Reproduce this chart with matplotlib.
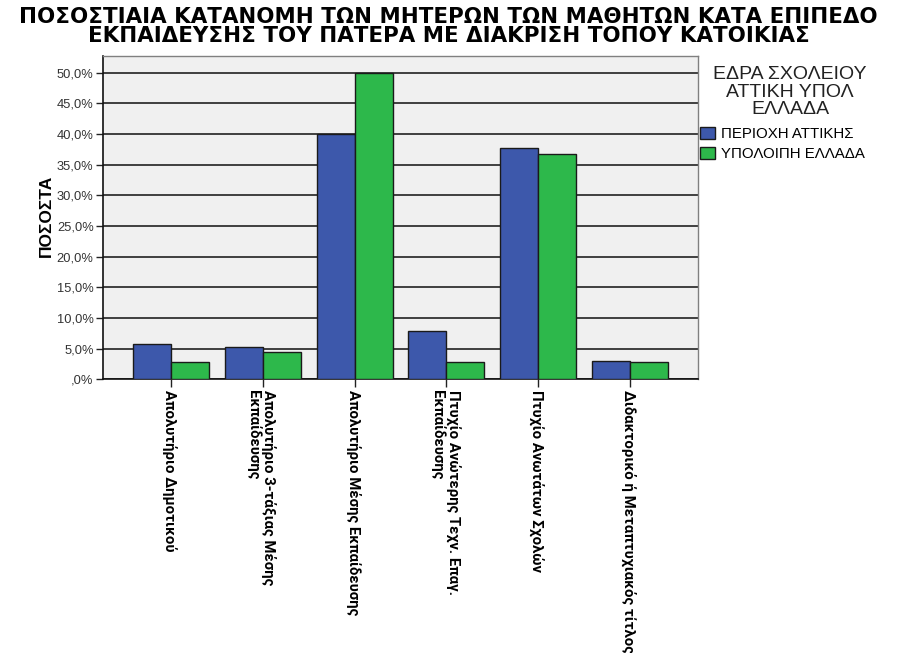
import matplotlib
matplotlib.use("Agg")
import matplotlib.pyplot as plt
import numpy as np

categories = [
    "Απολυτήριο Δημοτικού",
    "Απολυτήριο 3-τάξιας Μέσης\nΕκπαίδευσης",
    "Απολυτήριο Μέσης Εκπαίδευσης",
    "Πτυχίο Ανώτερης Τεχν. Επαγ.\nΕκπαίδευσης",
    "Πτυχίο Ανωτάτων Σχολών",
    "Διδακτορικό ή Μεταπτυχιακός τίτλος",
]
attiki = [5.7, 5.3, 40.0, 7.9, 37.7, 3.0]
ypoloipi = [2.8, 4.4, 50.0, 2.8, 36.7, 2.8]
series_names = ["ΠΕΡΙΟΧΗ ΑΤΤΙΚΗΣ", "ΥΠΟΛΟΙΠΗ ΕΛΛΑΔΑ"]
yticks = [0, 5, 10, 15, 20, 25, 30, 35, 40, 45, 50]

title = "ΠΟΣΟΣΤΙΑΙΑ ΚΑΤΑΝΟΜΗ ΤΩΝ ΜΗΤΕΡΩΝ ΤΩΝ ΜΑΘΗΤΩΝ ΚΑΤΑ ΕΠΙΠΕΔΟ\nΕΚΠΑΙΔΕΥΣΗΣ ΤΟΥ ΠΑΤΕΡΑ ΜΕ ΔΙΑΚΡΙΣΗ ΤΟΠΟΥ ΚΑΤΟΙΚΙΑΣ"
ylabel = "ΠΟΣΟΣΤΑ"
legend_title = "ΕΔΡΑ ΣΧΟΛΕΙΟΥ\nΑΤΤΙΚΗ ΥΠΟΛ\nΕΛΛΑΔΑ"

plt.rcParams["font.family"] = ["Liberation Sans", "DejaVu Sans"]
cond = ["Roboto", "DejaVu Sans"]

fig = plt.figure(figsize=(8.97, 6.53), dpi=100)
ax = fig.add_axes([0.1152, 0.4191, 0.7778 - 0.1152, 0.9142 - 0.4191])
ax.set_facecolor("#F0F0F0")

x = np.arange(len(categories))
w = 0.413
ax.bar(x - w / 2, attiki, w, color="#3D58AB", edgecolor="#1a1a1a", linewidth=1.0,
       label=series_names[0], zorder=3)
ax.bar(x + w / 2, ypoloipi, w, color="#2DB84B", edgecolor="#1a1a1a", linewidth=1.0,
       label=series_names[1], zorder=3)

ax.set_xlim(-0.737, 5.737)
ax.set_ylim(0, 52.7)
ax.set_yticks(yticks)
ax.set_yticklabels([("%.1f" % v).replace(".", ",").lstrip("0") + "%" for v in yticks],
                   fontsize=9.3, color="#333333")
ax.yaxis.grid(True, color="#404040", linewidth=1.4, zorder=1)
ax.set_axisbelow(True)
ax.tick_params(axis="y", length=5, width=1, color="#222222", pad=2)
ax.tick_params(axis="x", length=6, width=1, color="#222222", pad=2)

ax.set_xticks(x)
ax.set_xticklabels(categories, rotation=-90, rotation_mode="anchor",
                   ha="left", va="center_baseline", fontsize=10.7,
                   fontweight="bold", family=cond, linespacing=1.0)

for s in ["left", "bottom"]:
    ax.spines[s].set_color("#111111")
    ax.spines[s].set_linewidth(1.2)
for s in ["top", "right"]:
    ax.spines[s].set_color("#808080")
    ax.spines[s].set_linewidth(1.0)

fig.text(0.5, 1 - 7 / 653, title, ha="center", va="top", fontsize=15.4,
         fontweight="bold", family=["DejaVu Sans"], linespacing=0.95)
fig.text(0.052, 0.67, ylabel, rotation=90, ha="center", va="center", fontsize=12.5,
         fontweight="bold")

fig.text(790 / 897, 1 - 66 / 653, legend_title, ha="center", va="top", fontsize=14,
         color="#222222", linespacing=1.04, multialignment="center")

leg = ax.legend(loc="upper left", bbox_to_anchor=(700 / 897, 1 - 127 / 653),
                bbox_transform=fig.transFigure, frameon=False,
                fontsize=10.8, handlelength=1.0, handleheight=0.87,
                handletextpad=0.4, borderaxespad=0, borderpad=0, labelspacing=0.35)
for h in leg.legend_handles:
    h.set_edgecolor("#1a1a1a")

fig.savefig("out.png", dpi=100)
